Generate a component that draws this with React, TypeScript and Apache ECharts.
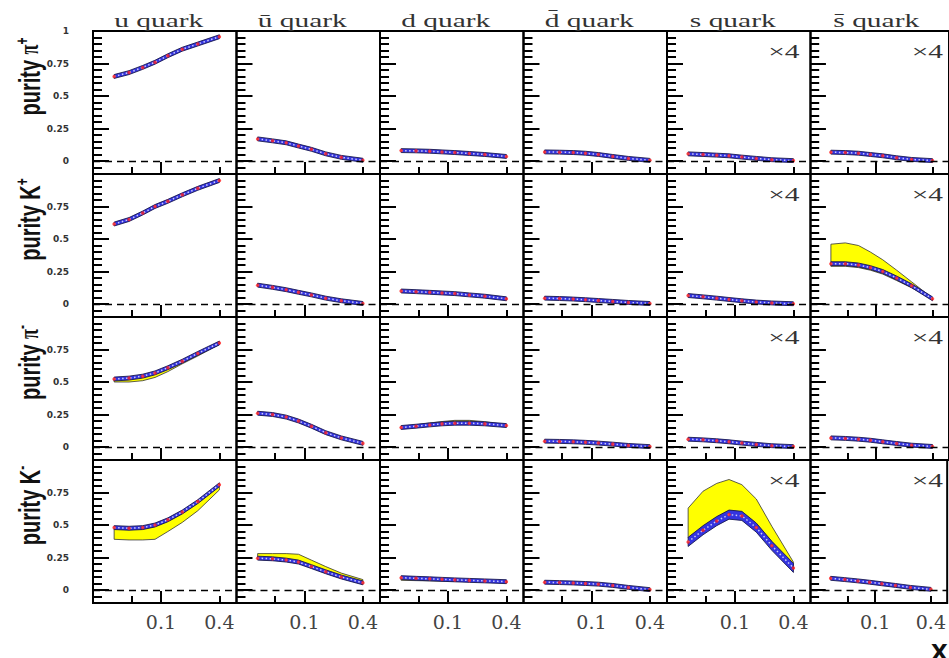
import React, { useEffect, useRef } from "react";
import * as echarts from "echarts";

// ---------------- data ----------------
const X = [0.033, 0.047, 0.065, 0.087, 0.118, 0.166, 0.24, 0.4];
const QUARKS = ["u quark", "ū quark", "d quark", "d̄ quark", "s quark", "s̄ quark"];
const HADRONS = ["π", "K", "π", "K"];
const CHARGES = ["+", "+", "-", "-"];
const SCALED_COLUMNS = [4, 5];
const SCALE_LABEL = "×4";
const X_MINOR_TICKS = [0.05, 0.4];
const X_MAJOR_TICKS = [0.1];
const X_TICK_LABELS = [0.1, 0.4];
const Y_MAJOR_TICKS = [0, 0.25, 0.5, 0.75, 1];
const Y_MINOR_TICKS = [-0.05, 0.05, 0.1, 0.15, 0.2, 0.3, 0.35, 0.4, 0.45, 0.55, 0.6, 0.65, 0.7, 0.8, 0.85, 0.9, 0.95];
const X_RANGE = [0.02, 0.6];
const Y_RANGE = [-0.1, 1];

// central purities, columns: u, ubar, d, dbar, s(x4), sbar(x4)
const PURITY_PI_PLUS = [
  [0.65, 0.68, 0.72, 0.76, 0.81, 0.86, 0.9, 0.956],
  [0.17, 0.155, 0.14, 0.115, 0.09, 0.055, 0.028, 0.006],
  [0.08, 0.078, 0.075, 0.07, 0.065, 0.058, 0.05, 0.035],
  [0.07, 0.068, 0.065, 0.06, 0.05, 0.035, 0.02, 0.005],
  [0.055, 0.05, 0.045, 0.04, 0.03, 0.02, 0.01, 0.003],
  [0.068, 0.065, 0.06, 0.05, 0.04, 0.025, 0.012, 0.003],
];
const PURITY_K_PLUS = [
  [0.615, 0.65, 0.7, 0.75, 0.79, 0.84, 0.89, 0.95],
  [0.145, 0.128, 0.11, 0.09, 0.07, 0.045, 0.025, 0.004],
  [0.1, 0.095, 0.09, 0.085, 0.08, 0.07, 0.06, 0.04],
  [0.045, 0.042, 0.038, 0.033, 0.027, 0.02, 0.012, 0.004],
  [0.065, 0.055, 0.045, 0.035, 0.025, 0.015, 0.008, 0.002],
  [0.31, 0.31, 0.3, 0.28, 0.25, 0.2, 0.14, 0.04],
];
const PURITY_PI_MINUS = [
  [0.523, 0.53, 0.545, 0.57, 0.61, 0.66, 0.72, 0.8],
  [0.26, 0.25, 0.23, 0.2, 0.16, 0.11, 0.07, 0.028],
  [0.15, 0.16, 0.17, 0.178, 0.183, 0.183, 0.178, 0.165],
  [0.045, 0.043, 0.04, 0.036, 0.03, 0.022, 0.012, 0.003],
  [0.06, 0.055, 0.048, 0.04, 0.03, 0.02, 0.01, 0.003],
  [0.07, 0.066, 0.06, 0.052, 0.04, 0.027, 0.014, 0.004],
];
const PURITY_K_MINUS = [
  [0.48, 0.475, 0.48, 0.5, 0.54, 0.6, 0.68, 0.81],
  [0.245, 0.24, 0.23, 0.215, 0.18, 0.14, 0.1, 0.055],
  [0.095, 0.09, 0.086, 0.082, 0.078, 0.074, 0.07, 0.064],
  [0.06, 0.057, 0.054, 0.05, 0.045, 0.035, 0.02, 0.003],
  [0.37, 0.46, 0.53, 0.58, 0.57, 0.48, 0.34, 0.17],
  [0.09, 0.08, 0.07, 0.06, 0.048, 0.035, 0.02, 0.005],
];
const PURITY_ROWS = [PURITY_PI_PLUS, PURITY_K_PLUS, PURITY_PI_MINUS, PURITY_K_MINUS];

// statistical (blue) half-widths
const STAT_HALF_WIDTH = 0.015;
const STAT_HALF_WIDTH_K_MINUS_S = 0.035;

// systematic (yellow) bands
const SYS_K_PLUS_SBAR_LO = [0.29, 0.29, 0.28, 0.26, 0.23, 0.18, 0.125, 0.035];
const SYS_K_PLUS_SBAR_HI = [0.46, 0.47, 0.45, 0.4, 0.34, 0.26, 0.17, 0.045];
const SYS_PI_MINUS_U_LO = [0.5, 0.5, 0.51, 0.535, 0.58, 0.64, 0.7, 0.79];
const SYS_PI_MINUS_U_HI = [0.523, 0.53, 0.545, 0.57, 0.61, 0.66, 0.72, 0.8];
const SYS_PI_MINUS_D_LO = [0.15, 0.16, 0.17, 0.178, 0.183, 0.183, 0.178, 0.165];
const SYS_PI_MINUS_D_HI = [0.155, 0.17, 0.185, 0.196, 0.205, 0.205, 0.195, 0.17];
const SYS_K_MINUS_U_LO = [0.39, 0.385, 0.385, 0.39, 0.45, 0.52, 0.61, 0.77];
const SYS_K_MINUS_U_HI = [0.47, 0.465, 0.47, 0.49, 0.53, 0.59, 0.67, 0.8];
const SYS_K_MINUS_UBAR_LO = [0.235, 0.23, 0.22, 0.205, 0.17, 0.13, 0.09, 0.045];
const SYS_K_MINUS_UBAR_HI = [0.28, 0.28, 0.28, 0.275, 0.23, 0.18, 0.13, 0.08];
const SYS_K_MINUS_D_LO = [0.075, 0.072, 0.07, 0.068, 0.066, 0.064, 0.062, 0.056];
const SYS_K_MINUS_D_HI = [0.095, 0.09, 0.086, 0.082, 0.078, 0.074, 0.07, 0.064];
const SYS_K_MINUS_S_LO = [0.4, 0.49, 0.56, 0.61, 0.6, 0.51, 0.37, 0.19];
const SYS_K_MINUS_S_HI = [0.63, 0.76, 0.82, 0.85, 0.81, 0.7, 0.49, 0.215];

const SYS_BANDS: Record<string, [number[], number[]]> = {
  "1-5": [SYS_K_PLUS_SBAR_LO, SYS_K_PLUS_SBAR_HI],
  "2-0": [SYS_PI_MINUS_U_LO, SYS_PI_MINUS_U_HI],
  "2-2": [SYS_PI_MINUS_D_LO, SYS_PI_MINUS_D_HI],
  "3-0": [SYS_K_MINUS_U_LO, SYS_K_MINUS_U_HI],
  "3-1": [SYS_K_MINUS_UBAR_LO, SYS_K_MINUS_UBAR_HI],
  "3-2": [SYS_K_MINUS_D_LO, SYS_K_MINUS_D_HI],
  "3-4": [SYS_K_MINUS_S_LO, SYS_K_MINUS_S_HI],
};

// ---------------- layout ----------------
const PANEL_LEFT = 93;
const PANEL_W = 143.5;
const PANEL_H = 143;
const ROW_TOP = [31, 174, 317, 460];
const TICK_LINE = { type: "solid", color: "#000", width: 2 };

// convert a tick length in pixels into data units along each axis
const xAtPixel = (px: number) => X_RANGE[0] * Math.pow(X_RANGE[1] / X_RANGE[0], px / PANEL_W);
const yAtPixel = (px: number) => Y_RANGE[0] + ((Y_RANGE[1] - Y_RANGE[0]) * px) / PANEL_H;

function tickMarkLines() {
  const items: any[] = [];
  const yTick = (v: number, len: number) =>
    items.push([{ coord: [X_RANGE[0], v], lineStyle: TICK_LINE }, { coord: [xAtPixel(len), v] }]);
  const xTick = (v: number, len: number) =>
    items.push([{ coord: [v, Y_RANGE[0]], lineStyle: TICK_LINE }, { coord: [v, yAtPixel(len)] }]);
  Y_MAJOR_TICKS.forEach((v) => yTick(v, 16));
  Y_MINOR_TICKS.forEach((v) => yTick(v, 9));
  X_MAJOR_TICKS.forEach((v) => xTick(v, 12));
  X_MINOR_TICKS.forEach((v) => xTick(v, 7));
  return items;
}

function buildOption() {
  const grid: any[] = [];
  const xAxis: any[] = [];
  const yAxis: any[] = [];
  const series: any[] = [];
  const graphic: any[] = [];

  for (let r = 0; r < 4; r++) {
    for (let c = 0; c < 6; c++) {
      const idx = r * 6 + c;
      grid.push({
        left: PANEL_LEFT + c * PANEL_W,
        top: ROW_TOP[r],
        width: PANEL_W,
        height: PANEL_H,
        show: true,
        borderColor: "#000",
        borderWidth: 2,
      });
      xAxis.push({
        type: "log",
        logBase: 10,
        gridIndex: idx,
        min: X_RANGE[0],
        max: X_RANGE[1],
        position: "bottom",
        axisLine: { show: false, onZero: false },
        axisTick: { show: false },
        minorTick: { show: false },
        splitLine: { show: false },
        axisLabel: {
          show: r === 3,
          customValues: X_TICK_LABELS,
          formatter: (v: number) => String(v),
          fontFamily: "DejaVu Serif",
          fontSize: 19,
          color: "#444",
          margin: 9,
        },
      });
      yAxis.push({
        type: "value",
        gridIndex: idx,
        min: Y_RANGE[0],
        max: Y_RANGE[1],
        position: "left",
        axisLine: { show: false, onZero: false },
        axisTick: { show: false },
        splitLine: { show: false },
        axisLabel: {
          show: c === 0,
          customValues: r === 0 ? Y_MAJOR_TICKS : Y_MAJOR_TICKS.slice(0, 4),
          formatter: (v: number) => String(v),
          fontFamily: "DejaVu Sans",
          fontWeight: "bold",
          fontSize: 9,
          color: "#333",
          margin: 24,
        },
      });

      const center = PURITY_ROWS[r][c];
      const half = r === 3 && c === 4 ? STAT_HALF_WIDTH_K_MINUS_S : STAT_HALF_WIDTH;
      const sys = SYS_BANDS[`${r}-${c}`];

      series.push({
        type: "custom",
        xAxisIndex: idx,
        yAxisIndex: idx,
        data: [[0.1, 0.5]],
        encode: { x: 0, y: 1 },
        z: 2,
        silent: true,
        renderItem: (_params: any, api: any) => {
          const pts = (ys: number[]) => X.map((x, i) => api.coord([x, ys[i]]));
          const children: any[] = [];
          if (sys) {
            children.push({
              type: "polygon",
              shape: { points: [...pts(sys[1]), ...pts(sys[0]).reverse()] },
              style: { fill: "#ffff00", stroke: "#333", lineWidth: 0.8 },
            });
          }
          const up = center.map((v) => v + half);
          const dn = center.map((v) => v - half);
          children.push({
            type: "polygon",
            shape: { points: [...pts(up), ...pts(dn).reverse()] },
            style: { fill: "#3434e0", stroke: "#1a1a50", lineWidth: 0.9 },
          });
          children.push({
            type: "polyline",
            shape: { points: pts(center) },
            style: { fill: "none", stroke: "rgba(255,255,255,0.75)", lineWidth: 1.5, lineDash: [1.5, 2.5] },
          });
          return { type: "group", children };
        },
      });
      series.push({
        type: "scatter",
        xAxisIndex: idx,
        yAxisIndex: idx,
        data: X.map((x, i) => [x, center[i]]),
        symbolSize: 3.5,
        itemStyle: { color: "#ff2020" },
        z: 3,
        silent: true,
        markLine: {
          silent: true,
          symbol: "none",
          label: { show: false },
          emphasis: { disabled: true },
          lineStyle: { type: [7, 5], color: "#000", width: 1.4 },
          data: [{ yAxis: 0 }, ...tickMarkLines()],
        },
      });
    }
  }

  // column titles
  QUARKS.forEach((q, c) => {
    graphic.push({
      type: "text",
      x: PANEL_LEFT + c * PANEL_W + PANEL_W / 2 - 6,
      y: 20,
      scaleX: 1.55,
      style: { text: q, font: '19px "Liberation Serif"', fill: "#333", align: "center", verticalAlign: "middle" },
    });
  });
  // x4 labels
  for (let r = 0; r < 4; r++) {
    SCALED_COLUMNS.forEach((c) => {
      graphic.push({
        type: "text",
        x: PANEL_LEFT + (c + 1) * PANEL_W - 11,
        y: ROW_TOP[r] + 20,
        scaleX: 1.55,
        style: { text: SCALE_LABEL, font: '19px "Liberation Serif"', fill: "#333", align: "right", verticalAlign: "middle" },
      });
    });
  }
  // row labels
  for (let r = 0; r < 4; r++) {
    graphic.push({
      type: "text",
      x: 29,
      y: ROW_TOP[r] + PANEL_H / 2 - 26,
      rotation: Math.PI / 2,
      scaleY: 1.5,
      style: {
        text: `{a|purity }{b|${HADRONS[r]}}{c|${CHARGES[r]}}`,
        align: "center",
        verticalAlign: "middle",
        fill: "#111",
        rich: {
          a: { font: 'bold 20px "Liberation Sans"', fill: "#111", lineHeight: 22 },
          b: {
            font: HADRONS[r] === "π" ? 'bold 18px "Liberation Serif"' : 'bold 20px "Liberation Sans"',
            fill: "#111",
            lineHeight: 22,
          },
          c: { font: 'bold 12px "Liberation Sans"', fill: "#111", verticalAlign: "top", lineHeight: 12 },
        },
      },
    });
  }
  // axis title
  graphic.push({
    type: "text",
    x: 931,
    y: 649,
    style: { text: "x", font: 'bold 30px "Liberation Sans"', fill: "#111", align: "left", verticalAlign: "middle" },
  });

  return { animation: false, backgroundColor: "#fff", grid, xAxis, yAxis, series, graphic };
}

export default function App() {
  const ref = useRef<HTMLDivElement>(null);
  useEffect(() => {
    if (!ref.current) return;
    const chart = echarts.init(ref.current, undefined, { renderer: "svg" });
    chart.setOption(buildOption() as any);
    return () => chart.dispose();
  }, []);
  return <div ref={ref} style={{ position: "fixed", left: 0, top: 0, width: 949, height: 658 }} />;
}
